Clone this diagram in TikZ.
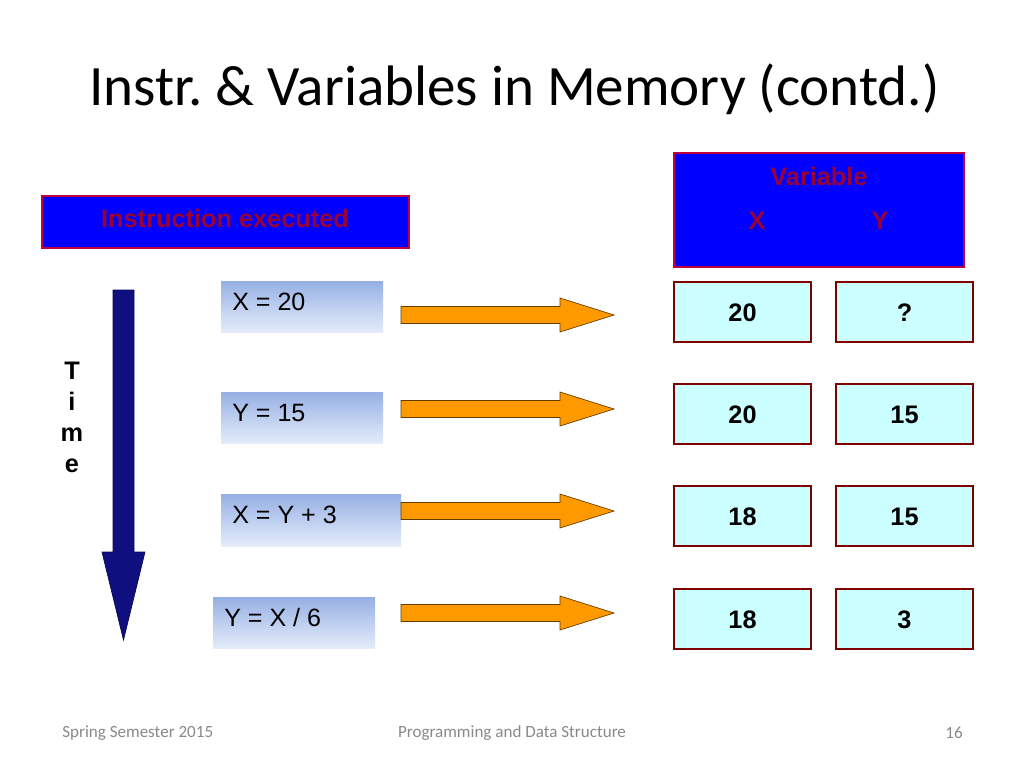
\documentclass[tikz,border=0pt]{standalone}
\usepackage{fontspec}
\setmainfont{Liberation Sans}
\newfontfamily\calibri{Carlito}
\usetikzlibrary{fit}
\definecolor{hdrblue}{RGB}{0,0,255}
\definecolor{hdrred}{RGB}{153,0,51}
\definecolor{hdrborder}{RGB}{190,0,60}
\definecolor{valfill}{RGB}{204,255,255}
\definecolor{valborder}{RGB}{128,0,0}
\definecolor{gradtop}{RGB}{150,176,228}
\definecolor{gradbot}{RGB}{228,236,250}
\definecolor{orangefill}{RGB}{255,153,0}
\definecolor{orangeedge}{RGB}{100,60,0}
\definecolor{navy}{RGB}{15,15,128}
\definecolor{footgray}{RGB}{137,137,137}
\tikzset{
  hdrbox/.style={fill=hdrblue, draw=hdrborder, line width=0.9pt, inner sep=0pt},
  hdrtext/.style={text=hdrred, font=\fontsize{19}{22}\selectfont\bfseries, inner sep=0pt},
  valbox/.style={fill=valfill, draw=valborder, line width=1.6pt, inner sep=0pt},
  valtext/.style={anchor=base, inner sep=0pt, yshift=-6.8pt, font=\fontsize{19}{22}\selectfont\bfseries},
  instbox/.style={top color=gradtop, bottom color=gradbot, draw=none, inner sep=0pt},
  insttext/.style={anchor=west, inner sep=0pt, font=\fontsize{18.8}{22}\selectfont},
  blockarrow/.style={fill=orangefill, draw=orangeedge, line width=0.5pt, line join=miter},
  foot/.style={text=footgray, font=\calibri\fontsize{12.8}{15}\selectfont, inner sep=0pt}
}
\begin{document}
\begin{tikzpicture}[x=0.75pt, y=-0.75pt]
\useasboundingbox (0,0) rectangle (1024,768);
% title
\node[anchor=base west, inner sep=0pt, font=\calibri\fontsize{42.8}{50}\selectfont] (title) at (89,105) {Instr.\ \& Variables in Memory (contd.)};
% header boxes
\node[hdrbox, fit={(42,196) (409,248)}] (insthdr) {};
\node[hdrtext] (insthdrtext) at (225,218) {Instruction executed};
\node[hdrbox, fit={(674,153) (964,267)}] (varhdr) {};
\node[hdrtext] (vartext) at (819,176) {Variable};
\node[hdrtext] (xtext) at (757,221) {X};
\node[hdrtext] (ytext) at (880,221) {Y};
% time arrow
\draw[fill=navy, draw=navy!60!black, line width=0.5pt, line join=miter]
  (113,290) -- (134,290) -- (134,552) -- (145,552) -- (123.5,640) -- (102,552) -- (113,552) -- cycle;
\node[align=center, inner sep=0pt, font=\fontsize{19}{23.25}\selectfont\bfseries] (time) at (72,417) {T\\i\\m\\e};
% instruction boxes
\node[instbox, fit={(221,281) (383,332)}] (i1) {};
\node[insttext] (t1) at (232,302) {X = 20};
\node[instbox, fit={(221,392) (383,443)}] (i2) {};
\node[insttext] (t2) at (232,413) {Y = 15};
\node[instbox, fit={(221,494) (401,546)}] (i3) {};
\node[insttext] (t3) at (232,515) {X = Y + 3};
\node[instbox, fit={(213,597) (375,648)}] (i4) {};
\node[insttext] (t4) at (224,618) {Y = X / 6};
% orange arrows
\foreach \cy in {315,409,511,613}{
  \draw[blockarrow] (401,\cy-8.5) -- (560,\cy-8.5) -- (560,\cy-17) -- (614,\cy) -- (560,\cy+17) -- (560,\cy+8.5) -- (401,\cy+8.5) -- cycle;
}
% value boxes
\node[valbox, fit={(674,282) (811,342)}] (x1) {};
\node[valbox, fit={(836,282) (973,342)}] (y1) {};
\node[valbox, fit={(674,384) (811,444)}] (x2) {};
\node[valbox, fit={(836,384) (973,444)}] (y2) {};
\node[valbox, fit={(674,486) (811,546)}] (x3) {};
\node[valbox, fit={(836,486) (973,546)}] (y3) {};
\node[valbox, fit={(674,589) (811,649)}] (x4) {};
\node[valbox, fit={(836,589) (973,649)}] (y4) {};
\foreach \n/\v in {x1/20, y1/?, x2/20, y2/15, x3/18, y3/15, x4/18, y4/3}{
  \node[valtext] (v\n) at (\n.center) {\v};
}
% footer
\node[foot, anchor=west] (f1) at (62,733) {Spring Semester 2015};
\node[foot] (f2) at (512,733) {Programming and Data Structure};
\node[foot] (f3) at (954,733) {16};
\end{tikzpicture}
\end{document}
